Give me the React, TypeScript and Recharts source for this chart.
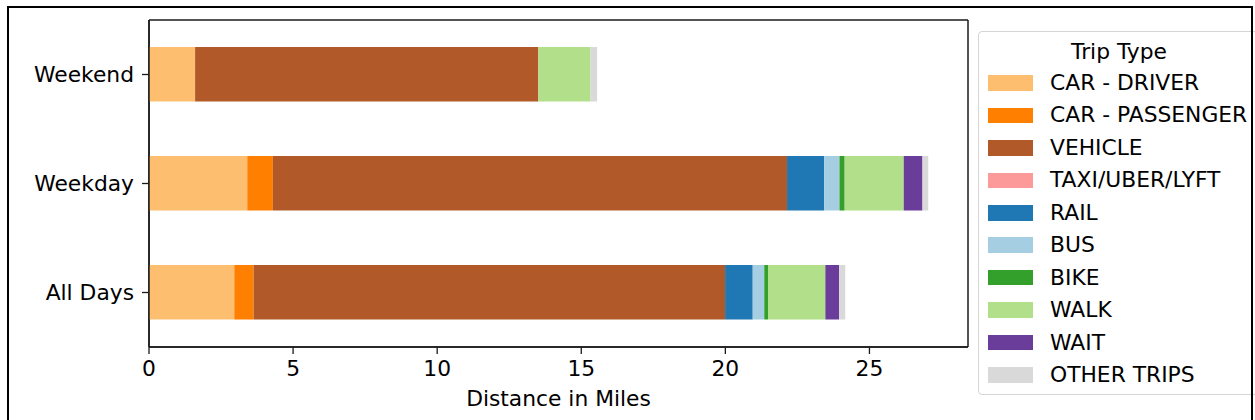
import React from 'react';
import { BarChart, Bar, XAxis, YAxis, Label, CartesianGrid } from 'recharts';

const categories = ['Weekend', 'Weekday', 'All Days'];
const seriesNames = [
  'CAR - DRIVER',
  'CAR - PASSENGER',
  'VEHICLE',
  'TAXI/UBER/LYFT',
  'RAIL',
  'BUS',
  'BIKE',
  'WALK',
  'WAIT',
  'OTHER TRIPS',
];
const seriesColors = [
  '#fdbf6f',
  '#ff7f00',
  '#b15928',
  '#fb9a99',
  '#1f78b4',
  '#a6cee3',
  '#33a02c',
  '#b2df8a',
  '#6a3d9a',
  '#d9d9d9',
];
const carDriver = [1.6, 3.41, 2.96];
const carPassenger = [0, 0.89, 0.67];
const vehicle = [11.91, 17.84, 16.36];
const taxi = [0, 0, 0];
const rail = [0, 1.29, 0.96];
const bus = [0, 0.53, 0.4];
const bike = [0, 0.18, 0.13];
const walk = [1.81, 2.05, 1.99];
const wait = [0, 0.65, 0.48];
const other = [0.23, 0.2, 0.21];
const xTicks = [0, 5, 10, 15, 20, 25];
const xMax = 28.42;
const xLabel = 'Distance in Miles';
const legendTitle = 'Trip Type';

const seriesValues = [carDriver, carPassenger, vehicle, taxi, rail, bus, bike, walk, wait, other];

const data = categories.map((name, i) => {
  const row: Record<string, number | string> = { name };
  seriesNames.forEach((s, j) => {
    row[s] = seriesValues[j][i];
  });
  return row;
});

const FONT = '"DejaVu Sans", sans-serif';
const FS = 21.8;
const AXIS = '#1a1a1a';

export default function App() {
  return (
    <div
      style={{
        position: 'absolute',
        left: 0,
        top: 0,
        width: 1255,
        height: 420,
        overflow: 'hidden',
        background: '#fff',
        fontFamily: FONT,
      }}
    >
      <div style={{ position: 'absolute', left: 0, top: 0 }}>
        <BarChart
          width={1255}
          height={420}
          data={data}
          layout="vertical"
          margin={{ top: 20, right: 287, bottom: 0, left: 0 }}
          barSize={54.5}
        >
          <CartesianGrid
            stroke={AXIS}
            strokeWidth={1.5}
            fill="none"
            horizontalCoordinatesGenerator={({ offset }: any) => [offset.top, offset.top + offset.height]}
            verticalCoordinatesGenerator={({ offset }: any) => [offset.left, offset.left + offset.width]}
          />
          <XAxis
            type="number"
            domain={[0, xMax]}
            ticks={xTicks}
            allowDataOverflow
            height={73}
            tickSize={7}
            tickMargin={7}
            axisLine={{ stroke: AXIS, strokeWidth: 1.5 }}
            tickLine={{ stroke: AXIS, strokeWidth: 1.3 }}
            tick={{ fill: '#000', fontSize: FS, fontFamily: FONT }}
          >
            <Label
              value={xLabel}
              position="insideBottom"
              offset={14}
              style={{ fill: '#000', fontSize: FS, fontFamily: FONT }}
            />
          </XAxis>
          <YAxis
            type="category"
            dataKey="name"
            width={149}
            tickSize={7}
            tickMargin={8}
            axisLine={{ stroke: AXIS, strokeWidth: 1.5 }}
            tickLine={{ stroke: AXIS, strokeWidth: 1.3 }}
            tick={{ fill: '#000', fontSize: FS, fontFamily: FONT }}
          />
          {seriesNames.map((s, j) => (
            <Bar
              key={s}
              dataKey={s}
              stackId="a"
              fill={seriesColors[j]}
              isAnimationActive={false}
            />
          ))}
        </BarChart>
      </div>

      {/* legend */}
      <div
        style={{
          position: 'absolute',
          left: 978,
          top: 31,
          width: 280,
          height: 364,
          border: '1px solid #d4d4d4',
          borderRadius: 4,
          boxSizing: 'border-box',
          background: '#fff',
        }}
      >
        <div
          style={{
            position: 'absolute',
            left: 0,
            width: 280,
            top: 19.5 - 15,
            height: 30,
            lineHeight: '30px',
            textAlign: 'center',
            fontSize: FS,
            color: '#000',
            whiteSpace: 'nowrap',
          }}
        >
          {legendTitle}
        </div>
        {seriesNames.map((s, j) => {
          const cy = 51 + 32.45 * j;
          return (
            <React.Fragment key={s}>
              <div
                style={{
                  position: 'absolute',
                  left: 9,
                  top: cy - 7.8,
                  width: 44.5,
                  height: 15.6,
                  background: seriesColors[j],
                }}
              />
              <div
                style={{
                  position: 'absolute',
                  left: 71,
                  top: cy - 15,
                  height: 30,
                  lineHeight: '30px',
                  fontSize: FS,
                  color: '#000',
                  whiteSpace: 'nowrap',
                }}
              >
                {s}
              </div>
            </React.Fragment>
          );
        })}
      </div>

      {/* outer frame */}
      <div
        style={{
          position: 'absolute',
          left: 7,
          top: 6,
          width: 1246,
          height: 440,
          borderLeft: '2px solid #000',
          borderTop: '2px solid #000',
          borderRight: '2px solid #000',
          boxSizing: 'border-box',
        }}
      />
    </div>
  );
}
